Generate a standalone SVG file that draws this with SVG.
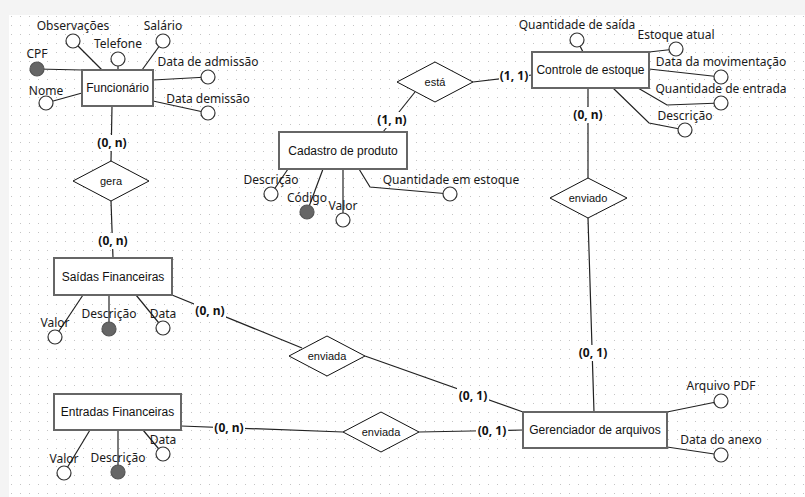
<svg xmlns="http://www.w3.org/2000/svg" width="805" height="497" viewBox="0 0 805 497">
<defs>
<pattern id="grid" x="2" y="7" width="9" height="9" patternUnits="userSpaceOnUse">
<rect x="0" y="0" width="1" height="1" fill="#c4c4c4"/>
</pattern>
<style>
.ent{fill:#fff;stroke:#666;stroke-width:2}
.rel{fill:#fff;stroke:#111;stroke-width:1}
.att{fill:#fff;stroke:#333;stroke-width:1.2}
.key{fill:#666;stroke:#555;stroke-width:1.2}
.ln{fill:none;stroke:#222;stroke-width:1.2}
.et{font-family:"Liberation Sans",Arial,sans-serif;font-size:12px;fill:#111;text-anchor:middle}
.rt{font-family:"Liberation Sans",Arial,sans-serif;font-size:11px;fill:#111;text-anchor:middle}
.at{font-family:"Noto Sans","DejaVu Sans",sans-serif;font-size:12px;fill:#1a1a1a;text-anchor:middle}
.ct{font-family:"Noto Sans","DejaVu Sans",sans-serif;font-size:12px;font-weight:bold;fill:#111;text-anchor:middle}
.cb{fill:#fff}
</style>
</defs>
<rect x="0" y="0" width="805" height="497" fill="#f4f4f4"/>
<rect x="9" y="15" width="796" height="482" fill="#fff"/>
<rect x="9" y="15" width="796" height="482" fill="url(#grid)"/>

<g id="connectors">
<line class="ln" x1="112" y1="106" x2="111" y2="161"/>
<line class="ln" x1="111" y1="201" x2="113" y2="258"/>
<line class="ln" x1="172" y1="295" x2="302" y2="348"/>
<line class="ln" x1="365" y1="356" x2="523" y2="412"/>
<line class="ln" x1="181" y1="426" x2="343" y2="432"/>
<line class="ln" x1="419" y1="432" x2="523" y2="430"/>
<line class="ln" x1="588" y1="88" x2="588" y2="178"/>
<line class="ln" x1="588" y1="218" x2="594" y2="412"/>
<line class="ln" x1="383" y1="132" x2="415" y2="92"/>
<line class="ln" x1="473" y1="82" x2="532" y2="75"/>
<rect class="cb" x="96" y="135" width="32" height="16"/><text class="ct" x="112" y="147">(0, n)</text>
<rect class="cb" x="97" y="233" width="32" height="16"/><text class="ct" x="113" y="245">(0, n)</text>
<rect class="cb" x="194" y="303" width="32" height="16"/><text class="ct" x="210" y="315">(0, n)</text>
<rect class="cb" x="457" y="388" width="32" height="16"/><text class="ct" x="473" y="400">(0, 1)</text>
<rect class="cb" x="213" y="420" width="32" height="16"/><text class="ct" x="229" y="432">(0, n)</text>
<rect class="cb" x="476" y="423" width="32" height="16"/><text class="ct" x="492" y="435">(0, 1)</text>
<rect class="cb" x="577" y="345" width="32" height="16"/><text class="ct" x="593" y="357">(0, 1)</text>
<rect class="cb" x="572" y="107" width="32" height="16"/><text class="ct" x="588" y="119">(0, n)</text>
<rect class="cb" x="376" y="112" width="32" height="16"/><text class="ct" x="392" y="124">(1, n)</text>
<rect class="cb" x="499" y="68" width="30" height="16"/><text class="ct" x="514" y="80">(1, 1)</text>
</g>

<g id="funcionario">
<line class="ln" x1="37" y1="69" x2="82" y2="70"/>
<line class="ln" x1="73" y1="41" x2="102" y2="70"/>
<line class="ln" x1="118" y1="59" x2="118" y2="70"/>
<line class="ln" x1="163" y1="41" x2="142" y2="70"/>
<line class="ln" x1="153" y1="80" x2="208" y2="77"/>
<line class="ln" x1="46" y1="103" x2="82" y2="93"/>
<line class="ln" x1="153" y1="101" x2="208" y2="113"/>
<rect class="ent" x="82" y="70" width="71" height="36"/>
<text class="et" x="117.5" y="92">Funcionário</text>
<circle class="key" cx="37" cy="69" r="7"/><text class="at" x="37" y="58">CPF</text>
<circle class="att" cx="73" cy="41" r="7"/><text class="at" x="73" y="30">Observações</text>
<circle class="att" cx="118" cy="59" r="7"/><text class="at" x="118" y="48">Telefone</text>
<circle class="att" cx="163" cy="41" r="7"/><text class="at" x="163" y="30">Salário</text>
<circle class="att" cx="208" cy="77" r="7"/><text class="at" x="208" y="66">Data de admissão</text>
<circle class="att" cx="46" cy="103" r="7"/><text class="at" x="46" y="95">Nome</text>
<circle class="att" cx="208" cy="113" r="7"/><text class="at" x="208" y="103">Data demissão</text>
</g>

<g id="gera">
<polygon class="rel" points="111,161 149,181 111,201 73,181"/>
<text class="rt" x="111" y="185">gera</text>
</g>

<g id="saidas">
<line class="ln" x1="83" y1="295" x2="55" y2="337"/>
<line class="ln" x1="109" y1="295" x2="109" y2="329"/>
<line class="ln" x1="136" y1="295" x2="163" y2="328"/>
<rect class="ent" x="54" y="258" width="118" height="37"/>
<text class="et" x="113" y="281">Saídas Financeiras</text>
<circle class="att" cx="55" cy="337" r="7"/><text class="at" x="55" y="327">Valor</text>
<circle class="key" cx="109" cy="329" r="7"/><text class="at" x="109" y="318">Descrição</text>
<circle class="att" cx="163" cy="328" r="7"/><text class="at" x="163" y="318">Data</text>
</g>

<g id="enviada1">
<polygon class="rel" points="327,336 365,356 327,376 289,356"/>
<text class="rt" x="327" y="360">enviada</text>
</g>

<g id="entradas">
<line class="ln" x1="90" y1="430" x2="64" y2="473"/>
<line class="ln" x1="118" y1="430" x2="118" y2="472"/>
<line class="ln" x1="143" y1="430" x2="163" y2="454"/>
<rect class="ent" x="54" y="394" width="127" height="36"/>
<text class="et" x="117.5" y="416">Entradas Financeiras</text>
<circle class="att" cx="64" cy="473" r="7"/><text class="at" x="64" y="463">Valor</text>
<circle class="key" cx="118" cy="472" r="7"/><text class="at" x="118" y="462">Descrição</text>
<circle class="att" cx="163" cy="454" r="7"/><text class="at" x="163" y="444">Data</text>
</g>

<g id="enviada2">
<polygon class="rel" points="381,412 419,432 381,452 343,432"/>
<text class="rt" x="381" y="436">enviada</text>
</g>

<g id="cadastro">
<line class="ln" x1="288" y1="169" x2="271" y2="194"/>
<line class="ln" x1="323" y1="169" x2="307" y2="212"/>
<line class="ln" x1="343" y1="169" x2="343" y2="220"/>
<polyline class="ln" points="359,169 370,187 450,194"/>
<rect class="ent" x="279" y="132" width="128" height="37"/>
<text class="et" x="343" y="155">Cadastro de produto</text>
<circle class="att" cx="271" cy="194" r="7"/><text class="at" x="271" y="184">Descrição</text>
<circle class="key" cx="307" cy="212" r="7"/><text class="at" x="307" y="202">Código</text>
<circle class="att" cx="343" cy="220" r="7"/><text class="at" x="343" y="210">Valor</text>
<circle class="att" cx="450" cy="194" r="7"/><text class="at" x="451" y="184">Quantidade em estoque</text>
</g>

<g id="esta">
<polygon class="rel" points="435,62 473,82 435,102 397,82"/>
<text class="rt" x="435" y="86">está</text>
</g>

<g id="controle">
<line class="ln" x1="577" y1="40" x2="583" y2="52"/>
<line class="ln" x1="649" y1="52" x2="676" y2="49"/>
<line class="ln" x1="649" y1="69" x2="721" y2="77"/>
<polyline class="ln" points="638,88 667,105 721,103"/>
<polyline class="ln" points="613,88 649,123 685,130"/>
<rect class="ent" x="532" y="52" width="117" height="36"/>
<text class="et" x="590.5" y="74">Controle de estoque</text>
<circle class="att" cx="577" cy="40" r="7"/><text class="at" x="577" y="29">Quantidade de saída</text>
<circle class="att" cx="676" cy="49" r="7"/><text class="at" x="676" y="39">Estoque atual</text>
<circle class="att" cx="721" cy="77" r="7"/><text class="at" x="721" y="66">Data da movimentação</text>
<circle class="att" cx="721" cy="103" r="7"/><text class="at" x="721" y="93">Quantidade de entrada</text>
<circle class="att" cx="685" cy="130" r="7"/><text class="at" x="685" y="120">Descrição</text>
</g>

<g id="enviado">
<polygon class="rel" points="588,178 627,198 588,218 550,198"/>
<text class="rt" x="588" y="202">enviado</text>
</g>

<g id="gerenciador">
<line class="ln" x1="667" y1="412" x2="721" y2="401"/>
<line class="ln" x1="667" y1="447" x2="721" y2="455"/>
<rect class="ent" x="523" y="412" width="144" height="36"/>
<text class="et" x="595" y="434">Gerenciador de arquivos</text>
<circle class="att" cx="721" cy="401" r="7"/><text class="at" x="721" y="390">Arquivo PDF</text>
<circle class="att" cx="721" cy="455" r="7"/><text class="at" x="721" y="444">Data do anexo</text>
</g>
</svg>
